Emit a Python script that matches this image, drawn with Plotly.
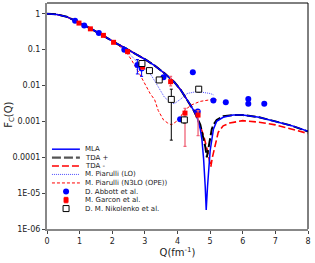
import plotly.graph_objects as go

# ---------------- data ----------------
q_main = [0, 0.3, 0.6, 0.9, 1.2, 1.5, 1.8, 2.1, 2.4, 2.7, 3.0, 3.3, 3.6, 3.9, 4.1, 4.3, 4.5, 4.6]
f_main = [1.0, 0.96, 0.83, 0.62, 0.45, 0.32, 0.22, 0.155, 0.11, 0.078, 0.054, 0.036, 0.022, 0.0125, 0.0075, 0.0039, 0.002, 0.0013]

q_mla_tail = [4.7, 4.75, 4.8, 4.85, 4.88, 4.92, 4.96, 5.0, 5.05, 5.1, 5.2, 5.4, 5.7, 6.0, 6.5, 7.0, 7.5, 8.0]
f_mla_tail = [0.0006, 0.0003, 0.00009, 1.5e-5, 3.4e-6, 1.5e-5, 5e-5, 0.00015, 0.0003, 0.0006, 0.001, 0.0013, 0.0015, 0.0015, 0.0013, 0.001, 0.00076, 0.00053]

q_tdap_tail = [4.7, 4.75, 4.8, 4.85, 4.9, 4.95, 5.0, 5.05, 5.1, 5.2, 5.4, 5.7, 6.0, 6.5, 7.0, 7.5, 8.0]
f_tdap_tail = [0.0008, 0.0005, 0.00033, 0.0002, 0.0001, 0.0002, 0.00038, 0.0006, 0.0008, 0.0011, 0.0014, 0.0015, 0.0015, 0.0013, 0.001, 0.00076, 0.00052]

q_tdam_tail = [4.7, 4.8, 4.9, 4.97, 5.02, 5.07, 5.15, 5.25, 5.4, 5.6, 6.0, 6.5, 7.0, 7.5, 8.0]
f_tdam_tail = [0.0007, 0.0004, 0.00018, 8e-5, 5.4e-5, 0.0001, 0.0002, 0.0005, 0.00075, 0.0009, 0.00105, 0.00095, 0.0008, 0.00062, 0.00046]

q_lo = [0, 0.3, 0.6, 0.9, 1.2, 1.5, 1.8, 2.1, 2.4, 2.6, 2.8, 3.0, 3.2, 3.4, 3.6, 3.8, 3.9, 4.1, 4.3, 4.6, 4.8, 5.0, 5.1]
f_lo = [1.0, 0.96, 0.83, 0.62, 0.45, 0.32, 0.22, 0.15, 0.10, 0.065, 0.042, 0.03, 0.019, 0.0095, 0.0047, 0.0033, 0.0031, 0.0042, 0.006, 0.0068, 0.0065, 0.006, 0.0055]

q_n3lo = [0, 0.3, 0.6, 0.9, 1.2, 1.5, 1.8, 2.1, 2.4, 2.6, 2.85, 3.0, 3.16, 3.3, 3.41, 3.57, 3.7, 3.82, 4.03, 4.23, 4.44, 4.69, 5.0, 5.2]
f_n3lo = [1.0, 0.96, 0.83, 0.62, 0.45, 0.32, 0.22, 0.15, 0.095, 0.05, 0.02, 0.011, 0.006, 0.004, 0.002, 0.0011, 0.0009, 0.0008, 0.0011, 0.0021, 0.0029, 0.0036, 0.004, 0.004]

q_abbott = [0.86, 1.14, 1.59, 2.37, 2.77, 2.90, 3.57, 4.08, 4.47, 4.62, 5.10, 5.48, 6.17, 6.17, 6.66]
f_abbott = [0.64, 0.47, 0.29, 0.10, 0.037, 0.030, 0.017, 0.00115, 0.0235, 0.0019, 0.0038, 0.0034, 0.0042, 0.0031, 0.0031]
e_abbott = [0, 0, 0, 0, 0.016, 0.012, 0, 0, 0, 0, 0, 0, 0, 0, 0]

q_garcon = [0.98, 1.33, 1.73, 2.04, 2.47, 2.93, 3.79, 4.23, 4.63]
f_garcon = [0.55, 0.38, 0.25, 0.16, 0.088, 0.033, 0.0128, 0.0017, 0.0015]
ep_garcon = [0, 0, 0, 0, 0, 0.005, 0.005, 0.0006, 0.0005]
em_garcon = [0, 0, 0, 0, 0, 0.005, 0.003, 0.0015, 0.0011]

q_nik = [2.91, 3.14, 3.44, 3.81, 4.21, 4.65]
f_nik = [0.041, 0.026, 0.0143, 0.0041, 0.0011, 0.0079]
e_nik = [0.003, 0.002, 0.0015, 0.0038, 0.0002, 0.0013]

y_tickvals = [1e-6, 1e-5, 1e-4, 1e-3, 1e-2, 1e-1, 1]
y_ticktext = ["1E-06", "1E-05", "0.0001", "0.001", "0.01", "0.1", "1"]
x_tickvals = [0, 1, 2, 3, 4, 5, 6, 7, 8]

legend_names = ["MLA", "TDA +", "TDA -", "M. Piarulli (LO)", "M. Piarulli (N3LO (OPE))",
                "D. Abbott et al.", "M. Garcon et al.", "D. M. Nikolenko et al."]

# ---------------- styles ----------------
BLUE = "rgb(0,0,255)"
RED = "rgb(255,0,0)"
FONT = "DejaVu Sans"

fig = go.Figure()

fig.add_trace(go.Scatter(x=q_lo, y=f_lo, mode="lines",
                         line=dict(color="rgb(80,80,255)", width=1, dash="1px,1px")))
fig.add_trace(go.Scatter(x=q_n3lo, y=f_n3lo, mode="lines",
                         line=dict(color=RED, width=1, dash="3px,2px")))
fig.add_trace(go.Scatter(x=q_main + q_tdam_tail, y=f_main + f_tdam_tail, mode="lines",
                         line=dict(color=RED, width=1.6, dash="7px,3px")))
fig.add_trace(go.Scatter(x=q_main + q_tdap_tail, y=f_main + f_tdap_tail, mode="lines",
                         line=dict(color="black", width=2, dash="9px,3px")))
fig.add_trace(go.Scatter(x=q_main + q_mla_tail, y=f_main + f_mla_tail, mode="lines",
                         line=dict(color=BLUE, width=1.5)))

fig.add_trace(go.Scatter(x=q_abbott, y=f_abbott, mode="markers",
                         marker=dict(color=BLUE, size=6, symbol="circle"),
                         error_y=dict(type="data", array=e_abbott, color=BLUE, width=1.5, thickness=1)))
fig.add_trace(go.Scatter(x=q_garcon, y=f_garcon, mode="markers",
                         marker=dict(color=RED, size=5, symbol="square"),
                         error_y=dict(type="data", symmetric=False, array=ep_garcon, arrayminus=em_garcon,
                                      color="rgb(240,100,120)", width=1.5, thickness=1.3)))
fig.add_trace(go.Scatter(x=q_nik, y=f_nik, mode="markers",
                         marker=dict(color="white", size=6, symbol="square",
                                     line=dict(color="black", width=1)),
                         error_y=dict(type="data", array=e_nik, color="black", width=1.5, thickness=1)))

# ---------------- legend (drawn in an overlay frame) ----------------
x0, x1, xm, xt = 0.019, 0.126, 0.073, 0.138
ys = [(229 - p) / 225.7 for p in [149.3, 157.7, 166.1, 174.5, 183.0, 191.6, 200.1, 208.6]]
leg_lines = [
    dict(color=BLUE, width=1.5),
    dict(color="#555555", width=2.2, dash="9px,3px"),
    dict(color=RED, width=1.6, dash="7px,3px"),
    dict(color="rgb(80,80,255)", width=1, dash="1px,1px"),
    dict(color=RED, width=1, dash="3px,2px"),
]
for i, ln in enumerate(leg_lines):
    fig.add_trace(go.Scatter(x=[x0, x1], y=[ys[i], ys[i]], mode="lines", line=ln,
                             xaxis="x2", yaxis="y2"))
fig.add_trace(go.Scatter(x=[xm], y=[ys[5]], mode="markers", marker=dict(color=BLUE, size=6),
                         xaxis="x2", yaxis="y2"))
fig.add_trace(go.Scatter(x=[xm], y=[ys[6]], mode="markers", marker=dict(color=RED, size=5, symbol="square"),
                         error_y=dict(type="constant", value=0.012, color=RED, width=2, thickness=1),
                         xaxis="x2", yaxis="y2"))
fig.add_trace(go.Scatter(x=[xm], y=[ys[7]], mode="markers",
                         marker=dict(color="white", size=6, symbol="square", line=dict(color="black", width=1)),
                         xaxis="x2", yaxis="y2"))
for i, name in enumerate(legend_names):
    fig.add_annotation(x=xt, y=ys[i], xref="paper", yref="paper", text=name, showarrow=False,
                       xanchor="left", yanchor="middle", font=dict(family=FONT, size=7, color="#222222"))

# y-axis title
fig.add_annotation(x=-0.142, y=0.505, xref="paper", yref="paper", text="F<sub>C</sub>(Q)",
                   showarrow=False, textangle=-90, xanchor="center", yanchor="middle",
                   font=dict(family=FONT, size=10, color="#222222"))

# borders on top and right
fig.add_shape(type="line", xref="paper", yref="paper", x0=0, x1=1, y0=1, y1=1, line=dict(color="black", width=1))
fig.add_shape(type="line", xref="paper", yref="paper", x0=1, x1=1, y0=0, y1=1, line=dict(color="black", width=1))

fig.update_layout(
    width=315, height=263,
    margin=dict(l=47, r=7, t=3, b=34, autoexpand=False),
    paper_bgcolor="white", plot_bgcolor="white",
    showlegend=False,
    font=dict(family=FONT, size=8, color="#222222"),
    xaxis=dict(range=[0, 8], tickvals=x_tickvals, showgrid=False, zeroline=False, automargin=False,
               showline=True, linecolor="#888888", linewidth=2,
               ticks="outside", ticklen=3, tickcolor="#444444",
               title=dict(text="Q(fm<sup>-1</sup>)", font=dict(size=10), standoff=2)),
    yaxis=dict(type="log", range=[-6, 0.30], tickvals=y_tickvals, ticktext=y_ticktext,
               showgrid=False, zeroline=False, automargin=False,
               showline=True, linecolor="#888888", linewidth=2,
               ticks="outside", ticklen=3, tickcolor="#444444"),
    xaxis2=dict(range=[0, 1], overlaying="x", anchor="y2", visible=False),
    yaxis2=dict(range=[0, 1], overlaying="y", anchor="x2", visible=False),
)

fig.write_html("out.html", config={"displayModeBar": False},
               post_script="document.body.style.margin='0';document.body.style.overflow='hidden';")
